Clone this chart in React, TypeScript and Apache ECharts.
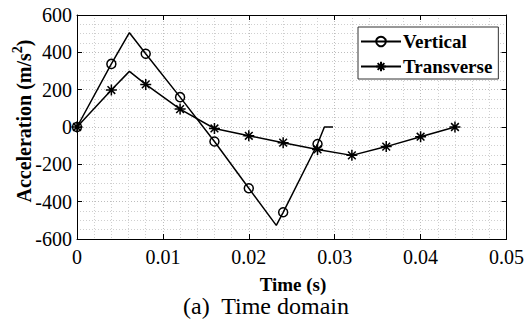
import React, { useEffect, useRef } from "react";
import * as echarts from "echarts";

const verticalT = [0, 0.004, 0.0061, 0.008, 0.012, 0.016, 0.02, 0.0232, 0.024, 0.028, 0.0288, 0.0298];
const verticalA = [0, 338, 505, 392, 160, -78, -328, -527, -457, -91, 0, 0];
const verticalMarked = [1, 1, 0, 1, 1, 1, 1, 0, 1, 1, 0, 0];

const transverseT = [0, 0.004, 0.0061, 0.008, 0.012, 0.016, 0.02, 0.024, 0.028, 0.032, 0.036, 0.04, 0.044];
const transverseA = [0, 198, 298, 228, 96, -8, -47, -84, -120, -152, -105, -52, 0];
const transverseMarked = [1, 1, 0, 1, 1, 1, 1, 1, 1, 1, 1, 1, 1];

const xTicks = [0, 0.01, 0.02, 0.03, 0.04, 0.05];
const yTicks = [-600, -400, -200, 0, 200, 400, 600];

const FONT = "Liberation Serif";
const ASTERISK = "path://M5,0L5,10M0,5L10,5M1.5,1.5L8.5,8.5M1.5,8.5L8.5,1.5";

function build(ts: number[], vs: number[], marks: number[]) {
  return ts.map((t, i) => (marks[i] ? { value: [t, vs[i]] } : { value: [t, vs[i]], symbol: "none" }));
}

export default function App() {
  const ref = useRef<HTMLDivElement>(null);
  useEffect(() => {
    document.body.style.margin = "0";
    const chart = echarts.init(ref.current!, null, { renderer: "svg" });
    const axisCommon = {
      axisLine: { show: true, onZero: false, lineStyle: { color: "#000", width: 1 } },
      axisTick: { show: true, inside: true, length: 5, lineStyle: { color: "#000" } },
    };
    const grid = { show: true, lineStyle: { color: "#bdbdbd", type: [1, 2], width: 1 } };
    const minorGrid = { show: true, lineStyle: { color: "#cfcfcf", type: [1, 2], width: 1 } };
    chart.setOption({
      animation: false,
      backgroundColor: "#fff",
      grid: { left: 77, top: 15, width: 433, height: 224, show: false },
      xAxis: [
        {
          type: "value",
          min: xTicks[0],
          max: xTicks[xTicks.length - 1],
          interval: 0.01,
          position: "bottom",
          ...axisCommon,
          axisLabel: {
            color: "#000",
            fontFamily: FONT,
            fontSize: 20,
            margin: 8,
            formatter: (v: number) => String(parseFloat(v.toFixed(3))),
          },
          splitLine: grid,
          minorTick: { show: false, splitNumber: 5 },
          minorSplitLine: minorGrid,
        },
        {
          type: "value",
          min: xTicks[0],
          max: xTicks[xTicks.length - 1],
          interval: 0.01,
          position: "top",
          ...axisCommon,
          axisLabel: { show: false },
          splitLine: { show: false },
        },
      ],
      yAxis: [
        {
          type: "value",
          min: yTicks[0],
          max: yTicks[yTicks.length - 1],
          interval: 200,
          position: "left",
          ...axisCommon,
          axisLabel: { color: "#000", fontFamily: FONT, fontSize: 20, margin: 5 },
          splitLine: grid,
          minorTick: { show: false, splitNumber: 4 },
          minorSplitLine: minorGrid,
        },
        {
          type: "value",
          min: yTicks[0],
          max: yTicks[yTicks.length - 1],
          interval: 200,
          position: "right",
          ...axisCommon,
          axisLabel: { show: false },
          splitLine: { show: false },
        },
      ],
      legend: {
        left: 358,
        top: 27,
        orient: "vertical",
        itemWidth: 40,
        itemHeight: 12,
        itemGap: 6,
        padding: [5, 6, 3, 2],
        backgroundColor: "#fff",
        borderColor: "#333",
        borderWidth: 1,
        textStyle: { color: "#000", fontFamily: FONT, fontSize: 19, fontWeight: "bold", padding: [0, 0, 0, -3] },
        data: ["Vertical", "Transverse"],
      },
      series: [
        {
          name: "Vertical",
          type: "line",
          data: build(verticalT, verticalA, verticalMarked),
          symbol: "circle",
          symbolSize: 9,
          showAllSymbol: true,
          lineStyle: { color: "#000", width: 1.5 },
          itemStyle: { color: "rgba(0,0,0,0)", borderColor: "#000", borderWidth: 1.5 },
          z: 3,
        },
        {
          name: "Transverse",
          type: "line",
          data: build(transverseT, transverseA, transverseMarked),
          symbol: ASTERISK,
          symbolSize: 11,
          showAllSymbol: true,
          lineStyle: { color: "#000", width: 1.5 },
          itemStyle: { color: "#000", borderColor: "#000", borderWidth: 1.5 },
          z: 3,
        },
      ],
      graphic: [
        {
          type: "text",
          x: 22,
          y: 121,
          rotation: Math.PI / 2,
          style: {
            text: "{a|Acceleration (m/s}{b|2}{a|)}",
            align: "center",
            verticalAlign: "middle",
            fill: "#000",
            rich: {
              a: { fontFamily: FONT, fontSize: 20, fontWeight: "bold", fill: "#000", lineHeight: 24, verticalAlign: "bottom" },
              b: { fontFamily: FONT, fontSize: 14, fontWeight: "bold", fill: "#000", lineHeight: 24, verticalAlign: "top" },
            },
          },
        },
        {
          type: "text",
          x: 293,
          y: 284,
          style: {
            text: "Time (s)",
            align: "center",
            verticalAlign: "middle",
            fontFamily: FONT,
            fontSize: 19,
            lineHeight: 19,
            fontWeight: "bold",
            fill: "#000",
          },
        },
        {
          type: "text",
          x: 266,
          y: 306,
          style: {
            text: "(a)  Time domain",
            align: "center",
            verticalAlign: "middle",
            fontFamily: FONT,
            fontSize: 24,
            lineHeight: 22,
            fill: "#000",
          },
        },
      ],
    });
    return () => chart.dispose();
  }, []);
  return <div ref={ref} style={{ width: 527, height: 325 }} />;
}
